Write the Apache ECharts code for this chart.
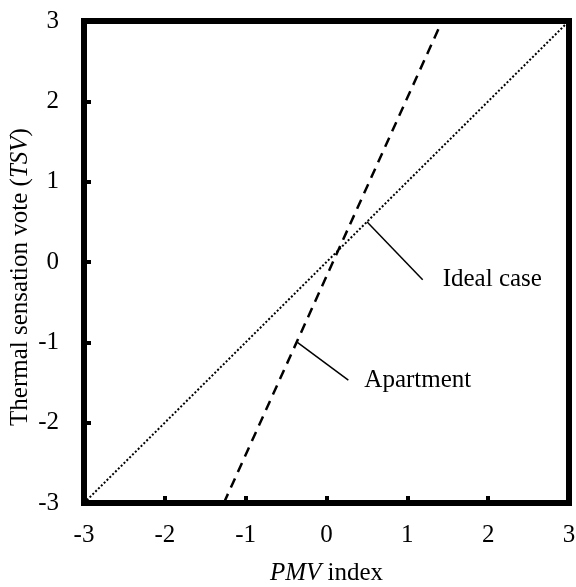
<!DOCTYPE html>
<html>
<head>
<meta charset="utf-8">
<script src="https://cdn.jsdelivr.net/npm/echarts@6/dist/echarts.min.js"></script>
<style>
  html, body { margin: 0; padding: 0; background: #fff; }
  #chart { width: 576px; height: 587px; }
</style>
</head>
<body>
<div id="chart"></div>
<script>
// axis range
const axisMin = -3
const axisMax = 3

// ideal case: TSV = PMV
const idealX = [-3, 3]
const idealY = [-3, 3]

// apartment regression line
const apartmentX = [-1.27, 1.43]
const apartmentY = [-3, 3]

// leader lines for the annotations
const idealLeaderX = [0.5, 1.19]
const idealLeaderY = [0.5, -0.22]
const aptLeaderX = [-0.36, 0.27]
const aptLeaderY = [-1.0, -1.47]

const idealText = 'Ideal case'
const aptText = 'Apartment'

const font = "'Liberation Serif', 'Times New Roman', serif"
const zip = (xs, ys) => xs.map((x, i) => [x, ys[i]])

const chart = echarts.init(document.getElementById('chart'))

const axisCommon = {
  type: 'value',
  min: axisMin,
  max: axisMax,
  interval: 1,
  axisLine: { show: false, onZero: false },
  splitLine: { show: false },
  axisTick: { show: true, inside: true, length: 7, lineStyle: { color: '#000', width: 4 } },
  nameLocation: 'middle',
  nameMoveOverlap: false
}

chart.setOption({
  animation: false,
  grid: {
    left: 84, right: 7, top: 21, bottom: 84,
    outerBoundsMode: 'none',
    show: true,
    borderColor: '#000',
    borderWidth: 6,
    backgroundColor: 'transparent'
  },
  xAxis: Object.assign({}, axisCommon, {
    axisLabel: { color: '#000', fontFamily: font, fontSize: 25, margin: 20 },
    name: '{i|PMV}{n| index}',
    nameGap: 58,
    nameTextStyle: {
      rich: {
        i: { fontFamily: font, fontSize: 25, fontStyle: 'italic', color: '#000' },
        n: { fontFamily: font, fontSize: 25, color: '#000' }
      }
    }
  }),
  yAxis: Object.assign({}, axisCommon, {
    axisLabel: { color: '#000', fontFamily: font, fontSize: 25, margin: 25 },
    name: '{n|Thermal sensation vote (}{i|TSV}{n|)}',
    nameGap: 51,
    nameTextStyle: {
      padding: [0, 30, 0, 0],
      rich: {
        i: { fontFamily: font, fontSize: 25, fontStyle: 'italic', color: '#000' },
        n: { fontFamily: font, fontSize: 25, color: '#000' }
      }
    }
  }),
  series: [
    {
      name: 'Ideal',
      type: 'line',
      data: zip(idealX, idealY),
      symbol: 'none',
      lineStyle: { color: '#000', width: 2, type: [2, 2] }
    },
    {
      name: 'Apartment',
      type: 'line',
      data: zip(apartmentX, apartmentY),
      symbol: 'none',
      lineStyle: { color: '#000', width: 2.5, type: [10, 7] }
    },
    {
      name: 'IdealLeader',
      type: 'line',
      data: zip(idealLeaderX, idealLeaderY),
      symbol: 'none',
      lineStyle: { color: '#000', width: 1.5 },
      endLabel: {
        show: true,
        formatter: idealText,
        distance: 20,
        color: '#000',
        fontFamily: font,
        fontSize: 25,
        padding: [4, 0, 0, 0]
      }
    },
    {
      name: 'AptLeader',
      type: 'line',
      data: zip(aptLeaderX, aptLeaderY),
      symbol: 'none',
      lineStyle: { color: '#000', width: 1.5 },
      endLabel: {
        show: true,
        formatter: aptText,
        distance: 16,
        color: '#000',
        fontFamily: font,
        fontSize: 25,
        padding: [4, 0, 0, 0]
      }
    }
  ]
})

window.addEventListener('resize', () => chart.resize())
</script>
</body>
</html>
